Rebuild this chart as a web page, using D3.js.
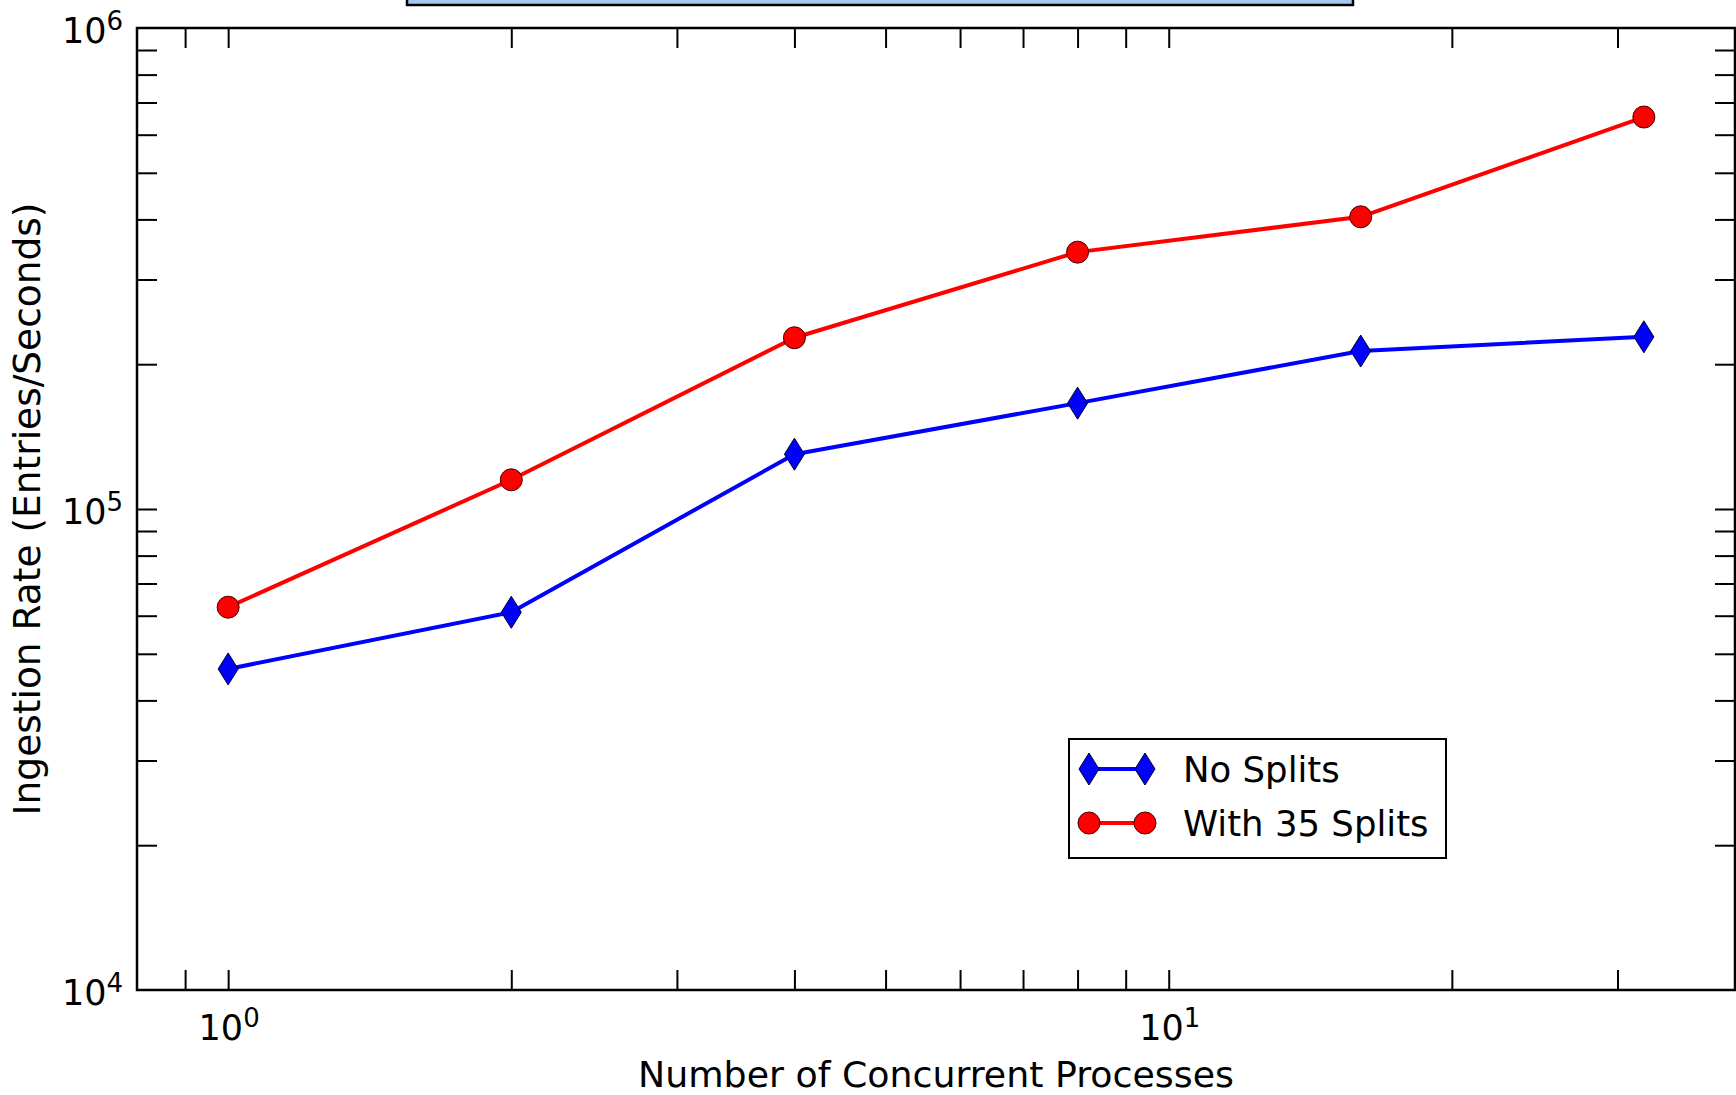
<!DOCTYPE html>
<html>
<head>
<meta charset="utf-8">
<script src="https://cdn.jsdelivr.net/npm/d3@7"></script>
<style>
  html, body { margin: 0; padding: 0; background: #fff; }
  svg { display: block; }
  text { font-family: "DejaVu Sans", sans-serif; fill: #000; }
</style>
</head>
<body>
<svg id="chart" width="1736" height="1095"></svg>
<script>
// Concurrent ingestion processes (x) and measured ingestion rates (y, entries/s)
const processes = [1, 2, 4, 8, 16, 32];
const noSplits = [46500, 61000, 130000, 166000, 213000, 228000];
const withSplits = [62500, 115000, 227000, 342000, 405000, 653000];
const seriesNames = ["No Splits", "With 35 Splits"];

// Log-axis ticks
const xTickValues = [0.9, 1, 2, 3, 4, 5, 6, 7, 8, 9, 10, 20, 30];
const xMajorTicks = [1, 10];
const yTickValues = [2e4, 3e4, 4e4, 5e4, 6e4, 7e4, 8e4, 9e4, 1e5,
                     2e5, 3e5, 4e5, 5e5, 6e5, 7e5, 8e5, 9e5];
const yMajorTicks = [1e4, 1e5, 1e6];

const xLabel = "Number of Concurrent Processes";
const yLabel = "Ingestion Rate (Entries/Seconds)";

const svg = d3.select("#chart");
const plotL = 137, plotR = 1735, plotT = 28, plotB = 990;

const x = d3.scaleLog().domain([0.8, 40]).range([plotL, plotR]);
const y = d3.scaleLog().domain([1e4, 1e6]).range([plotB, plotT]);

// Header box above the plot
svg.append("rect")
  .attr("x", 407).attr("y", -20)
  .attr("width", 946).attr("height", 25)
  .attr("fill", "#a4c8f0").attr("stroke", "#000").attr("stroke-width", 2.5);

const tickLen = 20;
function styleAxis(g) {
  g.select(".domain").remove();
  g.selectAll(".tick line").attr("stroke", "#000").attr("stroke-width", 2);
  g.selectAll(".tick text").remove();
}

svg.append("g").attr("transform", `translate(0,${plotB})`)
  .call(d3.axisBottom(x).tickValues(xTickValues).tickSize(-tickLen).tickFormat(""))
  .call(styleAxis);
svg.append("g").attr("transform", `translate(0,${plotT})`)
  .call(d3.axisTop(x).tickValues(xTickValues).tickSize(-tickLen).tickFormat(""))
  .call(styleAxis);
svg.append("g").attr("transform", `translate(${plotL},0)`)
  .call(d3.axisLeft(y).tickValues(yTickValues).tickSize(-tickLen).tickFormat(""))
  .call(styleAxis);
svg.append("g").attr("transform", `translate(${plotR},0)`)
  .call(d3.axisRight(y).tickValues(yTickValues).tickSize(-tickLen).tickFormat(""))
  .call(styleAxis);

// Plot frame
svg.append("rect")
  .attr("x", plotL).attr("y", plotT)
  .attr("width", plotR - plotL).attr("height", plotB - plotT)
  .attr("fill", "none").attr("stroke", "#000").attr("stroke-width", 2.5);

// Power-of-ten tick labels
function powLabel(sel, v) {
  const e = Math.round(Math.log10(v));
  sel.append("tspan").attr("font-size", 35).text("10");
  sel.append("tspan").attr("font-size", 26).attr("dy", -13).text(String(e));
}
xMajorTicks.forEach(v => {
  const t = svg.append("text")
    .attr("x", x(v) + 1).attr("y", plotB + 50)
    .attr("text-anchor", "middle");
  powLabel(t, v);
});
yMajorTicks.forEach(v => {
  const t = svg.append("text")
    .attr("x", plotL - 14).attr("y", y(v) + 15)
    .attr("text-anchor", "end");
  powLabel(t, v);
});

// Axis titles
svg.append("text")
  .attr("x", (plotL + plotR) / 2).attr("y", 1087)
  .attr("text-anchor", "middle").attr("font-size", 36.3)
  .text(xLabel);
svg.append("text")
  .attr("transform", `translate(40,${(plotT + plotB) / 2}) rotate(-90)`)
  .attr("text-anchor", "middle").attr("font-size", 37.5)
  .text(yLabel);

// Series
const series = [
  { name: seriesNames[0], values: noSplits, color: "#0000ff", symbol: "diamond" },
  { name: seriesNames[1], values: withSplits, color: "#ff0000", symbol: "circle" }
];

function drawMarker(g, symbol, color, cx, cy) {
  if (symbol === "circle") {
    g.append("circle").attr("cx", cx).attr("cy", cy).attr("r", 11)
      .attr("fill", color).attr("stroke", "#400").attr("stroke-width", 1);
  } else {
    const w = 10, h = 16;
    g.append("path")
      .attr("d", `M${cx},${cy - h}L${cx + w},${cy}L${cx},${cy + h}L${cx - w},${cy}Z`)
      .attr("fill", color).attr("stroke", "#002").attr("stroke-width", 1);
  }
}

const line = d3.line().x(d => x(d[0])).y(d => y(d[1]));
series.forEach(s => {
  const pts = processes.map((p, i) => [p, s.values[i]]);
  const g = svg.append("g");
  g.append("path").datum(pts).attr("d", line)
    .attr("fill", "none").attr("stroke", s.color).attr("stroke-width", 4)
    .attr("stroke-linejoin", "round");
  pts.forEach(p => drawMarker(g, s.symbol, s.color, x(p[0]), y(p[1])));
});

// Legend
const lg = svg.append("g");
lg.append("rect").attr("x", 1069).attr("y", 739).attr("width", 377).attr("height", 119)
  .attr("fill", "#fff").attr("stroke", "#000").attr("stroke-width", 2);
series.forEach((s, i) => {
  const cy = 769 + i * 54;
  lg.append("line").attr("x1", 1089).attr("x2", 1145).attr("y1", cy).attr("y2", cy)
    .attr("stroke", s.color).attr("stroke-width", 4);
  drawMarker(lg, s.symbol, s.color, 1089, cy);
  drawMarker(lg, s.symbol, s.color, 1145, cy);
  lg.append("text").attr("x", 1183).attr("y", cy + 13).attr("font-size", 35.5).text(s.name);
});
</script>
</body>
</html>
